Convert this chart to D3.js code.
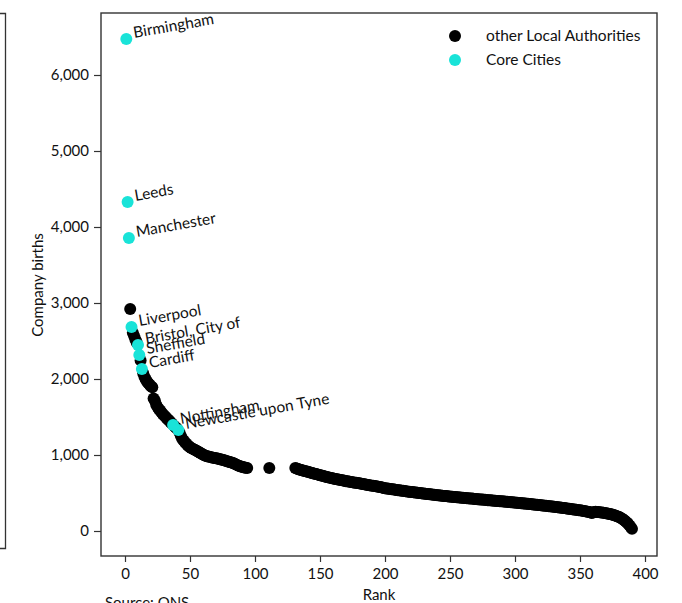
<!DOCTYPE html>
<html>
<head>
<meta charset="utf-8">
<script src="https://cdn.jsdelivr.net/npm/d3@7"></script>
<style>
  body { margin: 0; background: #fff; }
  svg { display: block; font-family: Lato, "Open Sans", sans-serif; }
</style>
</head>
<body>
<svg id="chart" width="682" height="603"></svg>
<script>
// ---- data ----
// Company births by rank; segments with their starting rank
const segment1Start = 1;
const segment1Values = [6474, 4329, 3855, 2921, 2684, 2610, 2565, 2520, 2480, 2447,
  2316, 2245, 2131, 2075, 2025, 1995, 1965, 1945, 1925, 1905,
  1890, 1745, 1715, 1660, 1630, 1605, 1585, 1562, 1541, 1522,
  1503, 1486, 1468, 1452, 1433, 1414, 1395, 1381, 1362, 1347,
  1329, 1292, 1251, 1214, 1192, 1171, 1152, 1133, 1117, 1102,
  1091, 1082, 1074, 1066, 1056, 1046, 1036, 1026, 1016, 1007,
  998, 991, 985, 980, 976, 972, 968, 964, 961, 957,
  954, 950, 945, 941, 936, 931, 926, 921, 916, 911,
  905, 900, 894, 888, 879, 870, 862, 856, 850, 845,
  840, 836, 832, 829];
const segment2Start = 111;
const segment2Values = [829];
const segment3Start = 131;
const segment3Values = [829, 822, 815, 810, 805, 800, 795, 790, 786, 782,
  777, 772, 767, 762, 758, 753, 749, 745, 740, 735,
  730, 726, 721, 716, 711, 707, 703, 699, 696, 692,
  688, 685, 681, 678, 674, 670, 667, 663, 660, 656,
  653, 651, 648, 645, 642, 639, 636, 634, 631, 628,
  625, 622, 619, 615, 612, 609, 606, 603, 600, 597,
  594, 591, 588, 584, 581, 578, 575, 572, 566, 563,
  560, 558, 555, 553, 550, 548, 545, 542, 540, 537,
  535, 532, 530, 528, 525, 523, 521, 518, 516, 514,
  512, 510, 507, 505, 503, 501, 499, 496, 494, 492,
  490, 488, 486, 484, 482, 480, 478, 476, 474, 472,
  470, 468, 466, 464, 462, 461, 459, 457, 455, 453,
  452, 450, 448, 447, 445, 443, 442, 440, 438, 437,
  435, 434, 432, 430, 429, 427, 426, 424, 422, 421,
  419, 418, 416, 414, 413, 411, 410, 408, 406, 405,
  403, 402, 400, 399, 397, 396, 394, 393, 391, 390,
  388, 387, 385, 384, 382, 380, 379, 377, 376, 374,
  372, 371, 369, 367, 366, 364, 362, 361, 359, 357,
  355, 354, 352, 350, 348, 346, 344, 343, 341, 339,
  337, 335, 333, 331, 329, 327, 325, 323, 321, 319,
  317, 315, 312, 310, 308, 306, 304, 301, 299, 297,
  294, 292, 289, 287, 284, 282, 279, 277, 274, 272,
  269, 266, 263, 260, 257, 254, 250, 246, 237, 244,
  250, 252, 251, 249, 247, 245, 243, 240, 237, 234,
  231, 228, 224, 220, 215, 210, 204, 198, 191, 184,
  176, 166, 155, 142, 128, 112, 95, 74, 52, 28];

const coreCityNames = ["Birmingham", "Leeds", "Manchester", "Liverpool", "Bristol, City of",
  "Sheffield", "Cardiff", "Nottingham", "Newcastle upon Tyne"];
const coreCityRanks = [1, 2, 3, 5, 10, 11, 13, 37, 41];

const xTicks = [0, 50, 100, 150, 200, 250, 300, 350, 400];
const yTicks = [0, 1000, 2000, 3000, 4000, 5000, 6000];
const legendLabels = ["other Local Authorities", "Core Cities"];
const seriesColors = ["#000000", "#19e3d8"];

// ---- build points ----
const points = [];
[[segment1Start, segment1Values], [segment2Start, segment2Values], [segment3Start, segment3Values]]
  .forEach(([start, vals]) => vals.forEach((v, i) => points.push({ rank: start + i, value: v })));
points.forEach(p => {
  const idx = coreCityRanks.indexOf(p.rank);
  p.core = idx >= 0;
  p.name = idx >= 0 ? coreCityNames[idx] : null;
});

// ---- layout ----
const svg = d3.select("#chart");
const plot = { left: 101, right: 657, top: 13, bottom: 556 };

const x = d3.scaleLinear()
  .domain([(101 - 125) / 1.3, (657 - 125) / 1.3])
  .range([plot.left, plot.right]);
const y = d3.scaleLinear()
  .domain([(531 - 556) / 0.076, (531 - 13) / 0.076])
  .range([plot.bottom, plot.top]);

// left edge of neighbouring panel (cropped)
svg.append("path")
  .attr("d", "M0,13.5 H5.5 V548.5 H0")
  .attr("fill", "none").attr("stroke", "#333").attr("stroke-width", 1.3);

// axes
const fmt = d3.format(",");
const yAxis = svg.append("g")
  .attr("transform", `translate(${plot.left},0)`)
  .call(d3.axisLeft(y).tickValues(yTicks).tickFormat(fmt).tickSize(7).tickPadding(5));
const xAxis = svg.append("g")
  .attr("transform", `translate(0,${plot.bottom})`)
  .call(d3.axisBottom(x).tickValues(xTicks).tickFormat(d3.format("d")).tickSize(6).tickPadding(6));
[yAxis, xAxis].forEach(g => {
  g.select(".domain").remove();
  g.selectAll("line").attr("stroke", "#333").attr("stroke-width", 1.2);
  g.selectAll("text").attr("font-family", "Lato, sans-serif").attr("font-size", 15).attr("fill", "#111");
});

// frame
svg.append("rect")
  .attr("x", plot.left).attr("y", plot.top)
  .attr("width", plot.right - plot.left).attr("height", plot.bottom - plot.top)
  .attr("fill", "none").attr("stroke", "#333").attr("stroke-width", 1.4);

// points
svg.append("clipPath").attr("id", "clip").append("rect")
  .attr("x", plot.left).attr("y", plot.top)
  .attr("width", plot.right - plot.left).attr("height", plot.bottom - plot.top);
const gPts = svg.append("g").attr("clip-path", "url(#clip)");
gPts.selectAll("circle.other")
  .data(points.filter(p => !p.core))
  .join("circle").attr("class", "other")
  .attr("cx", d => x(d.rank)).attr("cy", d => y(d.value)).attr("r", 6)
  .attr("fill", seriesColors[0]);
gPts.selectAll("circle.core")
  .data(points.filter(p => p.core))
  .join("circle").attr("class", "core")
  .attr("cx", d => x(d.rank)).attr("cy", d => y(d.value)).attr("r", 6)
  .attr("fill", seriesColors[1]);

// labels
svg.append("g").selectAll("text")
  .data(points.filter(p => p.core))
  .join("text")
  .attr("transform", d => `translate(${x(d.rank) + 8},${y(d.value) - 1}) rotate(-10)`)
  .attr("font-size", 15.5).attr("fill", "#111")
  .text(d => d.name);

// legend
const legend = svg.append("g");
legendLabels.forEach((lab, i) => {
  legend.append("circle").attr("cx", 455).attr("cy", 36 + i * 24).attr("r", 6).attr("fill", seriesColors[i]);
  legend.append("text").attr("x", 486).attr("y", 41 + i * 24)
    .attr("font-size", 15.5).attr("fill", "#111").text(lab);
});

// axis titles
svg.append("text")
  .attr("transform", "translate(43,285) rotate(-90)")
  .attr("text-anchor", "middle").attr("font-size", 15).attr("fill", "#111")
  .text("Company births");
svg.append("text")
  .attr("x", 379).attr("y", 600).attr("text-anchor", "middle")
  .attr("font-size", 15).attr("fill", "#111").text("Rank");
svg.append("text")
  .attr("x", 105).attr("y", 608)
  .attr("font-size", 15).attr("fill", "#111").text("Source: ONS");
</script>
</body>
</html>
